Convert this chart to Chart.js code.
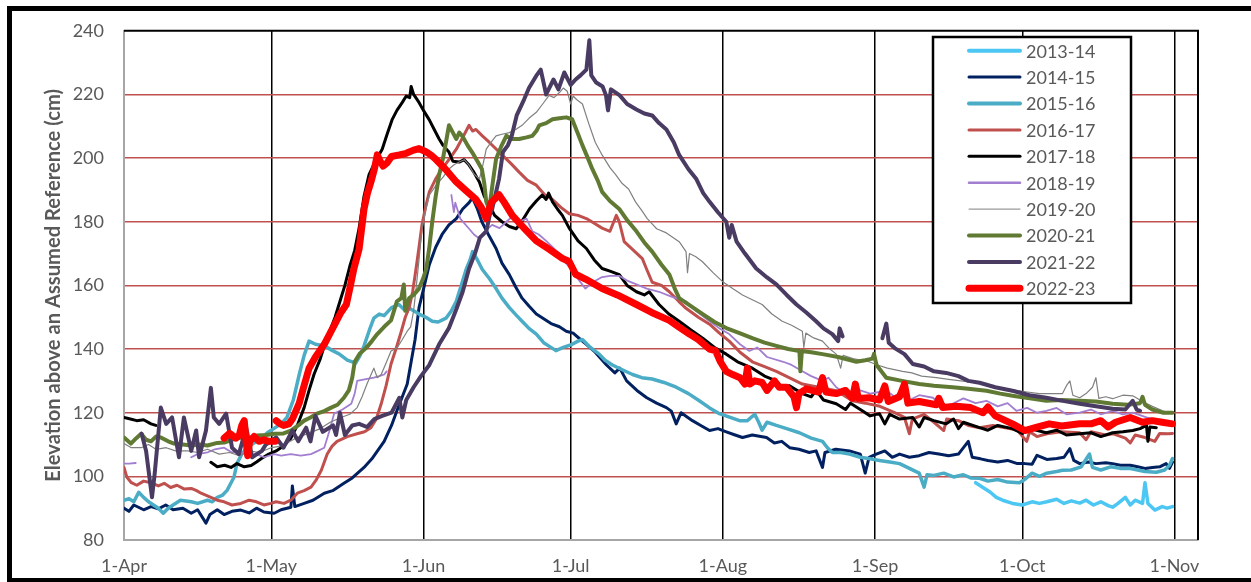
<!DOCTYPE html>
<html>
<head>
<meta charset="utf-8">
<script src="https://cdn.jsdelivr.net/npm/chart.js@4.4.0/dist/chart.umd.min.js"></script>
<style>
  html, body { margin: 0; padding: 0; background: #fff; }
</style>
</head>
<body>
<canvas id="myChart" width="1251" height="582"></canvas>
<script>
// Axis ticks (days after 1-Apr) and their labels
const tickDays = [0, 30, 61, 91, 122, 153, 183, 214];
const tickLabels = ['1-Apr', '1-May', '1-Jun', '1-Jul', '1-Aug', '1-Sep', '1-Oct', '1-Nov'];
const seriesNames = ['2013-14', '2014-15', '2015-16', '2016-17', '2017-18', '2018-19', '2019-20', '2020-21', '2021-22', '2022-23'];

// Series values: [day after 1-Apr, elevation cm], null = gap in record
const s2013 = [[173.5,98],[175,96.5],[176.5,95],[177.7,93.4],[179,92.5],[181,91.5],[183,91],[185,92],[186.5,91.5],[188,92],[190,92.8],[191.5,91.5],[193,92.3],[194.7,91.6],[196,92.5],[197.5,91],[199,92],[200.5,90.8],[201.4,90.3],[202.5,91.5],[204,93.4],[205,91],[206,92.5],[207.5,91.5],[208,98],[208.6,91.5],[210,89.4],[211.5,90.5],[212.5,90],[213.6,90.5]];

const s2014 = [[0,90],[1,89],[2,91],[4,89.5],[5.5,90.5],[7,89.8],[8.5,91],[10,89.5],[12,90],[13.7,88.4],[15,89.5],[16.7,85.3],[17.5,88],[19,89.5],[20.4,88],[22,89],[23.8,89.4],[25.5,88.5],[27,90],[28.5,88.8],[30.6,88.4],[32,89.5],[34,90.3],[34.3,97],[34.8,90.5],[36.7,91.5],[38.5,92.5],[40.8,94.7],[42.5,95.5],[44.8,97.8],[46.5,99.5],[48.9,102.8],[50.5,105.5],[53,111],[54.5,116],[55.6,120.6],[56.7,125],[57.7,129],[58.5,136],[59.3,143],[60.1,153],[61.2,160],[62.2,166.5],[63.5,172],[64.8,176],[66.2,179],[67.7,181],[69,184],[70.3,186],[71,187.5],[72,184],[72.9,180],[74.4,175.5],[75.8,171.6],[77,167],[78.5,163.4],[79.8,159.5],[81.1,156],[82.5,153.5],[84,151],[85.5,149.5],[87,148],[88.7,147],[90.1,145.6],[91.5,145],[93,143],[94.2,141.5],[96,139],[98.3,135],[100,132.5],[101,134],[102.4,130],[104.5,127],[106.5,124.7],[108.5,123],[110.5,121.6],[111.5,120.5],[112.5,116.5],[113.5,120],[115.8,117.5],[117.5,116],[119.3,114.4],[121,115],[122.7,114],[124.5,113],[126,112.2],[128,113],[130.9,112.2],[132.5,110.5],[134,111],[135.6,109],[137.5,108.5],[139.6,107.5],[141,108],[142.3,102.8],[142.8,107.5],[145,108.5],[147.8,108],[150,107],[151,101],[151.8,106],[153,106.8],[155,108],[156.5,106],[158,107],[160,106],[162,106.5],[164,107.5],[166,107],[168,106.5],[170,107],[172,111],[172.8,106],[174.5,105.5],[176,105],[178,104.5],[180,105],[182,104],[183.5,104],[185,103.8],[186,106.6],[188,105.3],[190,105.6],[191.5,106],[192.7,108.7],[193.5,105],[194.7,104],[196.5,104.5],[198,104],[200,104.3],[201.4,104],[203,103.5],[205,103.5],[206.5,103],[208,102.5],[209.5,102.8],[211,103],[212.3,104],[213,102.5],[213.6,104.5]];

const s2015 = [[0,92.5],[1,93],[2,92],[3,95],[4,93.4],[5,92],[6,91],[7,90],[8,88.4],[9,90],[10,91],[11.5,92.5],[13.7,92],[15,91.5],[17,92.5],[18,92],[19,93.4],[20,94],[21,95.6],[22.4,99.7],[23,104],[24,107],[25,109],[26,110],[27,111],[28,112],[29.2,113.7],[30.5,115],[32,116.5],[33.2,118.5],[34.5,124],[35.7,132],[36.7,138],[37.7,142.5],[39,141.5],[40.8,141],[42.5,139.5],[43.8,138.5],[45.5,136.5],[47.2,135.6],[48.1,138],[48.9,141],[50,146],[50.9,149.7],[52,151],[53,150.5],[54.5,153],[56,154],[57,152.5],[58,153],[59,152],[60.1,151],[61.5,150],[62.8,148.75],[64,148.5],[65.6,149.7],[66.7,152],[67.7,155],[68.7,160],[69.7,165],[70.5,168],[71,170.6],[72,168],[73,165],[74.5,162],[75.8,159],[77,156],[78.5,153],[80,150.5],[81.1,148.75],[82.5,146.5],[84,144.7],[85.5,142],[86.5,141],[88,139.5],[89.5,140.5],[91.3,141.5],[92.5,142.5],[93.4,143],[95,140.5],[96.8,138.4],[98,136.5],[99.5,135],[101.5,133.5],[103.6,132],[105.5,131],[107.6,130.6],[110,129.5],[112.5,128],[115,126],[117.2,123.75],[119.3,121.5],[121.3,119.7],[123.5,118.5],[125.4,117.5],[127,117.5],[128.5,119.5],[129.3,117],[130,114.5],[131,117],[132.9,116],[135,115],[137.6,113.7],[140,112],[142.3,111],[143.3,109],[144.3,107.5],[146,107.5],[147.8,107],[150,106],[152,105.5],[153.9,105],[156,104.5],[158,104],[160,102.5],[162,101],[163,96.6],[163.6,100.5],[165,100.3],[167,101],[169,99.8],[171,100.5],[172.5,99.5],[174.3,99.4],[176,98.5],[178,99],[180,98.2],[182.4,98],[183.5,99],[185,101],[186.5,100],[188,101],[190,101.5],[191.2,101.9],[193,102],[195,103],[196.7,107],[197.3,102.8],[199,102],[201,103],[203,102.5],[204.8,102.5],[206.5,102],[208,101.5],[210.3,101.3],[212,102],[213,103.5],[213.6,105.6]];

const s2016 = [[0,102.8],[0.6,99.7],[1.5,98],[2.6,97.2],[4,98.5],[5.5,98],[7,97],[8.2,97.8],[9.5,96.5],[10.8,97.2],[12.3,96],[13.7,96.2],[14.8,95.5],[15.7,94.7],[17.7,93.4],[19,92.5],[20.4,92],[22,91],[23.8,91.5],[25.5,92.5],[27,92],[28.5,91],[29.9,91.5],[31,92],[32.6,91.5],[34,92.5],[35.3,94.7],[36.7,95.5],[38.1,96.6],[39.2,99],[40.2,101.9],[41.4,107],[42.4,109.5],[43.4,111],[45.5,112.5],[47.5,113.4],[49,114],[50.3,115.3],[51.4,118],[52.4,122.8],[53.4,128.5],[54.4,135.3],[55.5,140.5],[56.5,145.6],[57.3,150],[58.1,153],[58.8,158],[59.5,165.3],[60.1,172],[60.7,179],[61.5,185],[62.2,189.4],[63.5,193.5],[64.8,196.6],[66.2,199.5],[67.7,202.8],[69,206.5],[70.3,210.3],[71,208.5],[71.7,209],[73,207],[74.4,205],[75.7,203],[77,201],[78.7,198.5],[80.5,195.6],[82.2,193],[84,191.5],[85.7,188.5],[87.3,187],[89,184.5],[90.7,182.5],[92.5,182],[94.2,181],[95.8,179.5],[97.4,178],[99,177],[100.3,182],[100.9,180],[101.9,173.75],[103.8,171],[105.6,168.4],[106.5,165],[107.6,161],[109.5,160],[111.1,158],[113,155],[114.5,152.8],[117,150],[119.3,147.8],[121.3,145],[123.3,142.5],[125.5,139],[128,136],[130.5,134.5],[132.9,133],[135.5,131],[138.2,129],[141.5,128],[145.1,126.9],[148.4,123.75],[151,123],[154,122],[157,120],[159,118.5],[160,113.4],[160.6,118],[163,119.5],[165,117],[167,114.4],[167.6,118],[170,117.5],[172,116],[174.3,115.3],[177,116],[180.4,115],[182,114.5],[183.9,111],[184.5,114],[186,112.5],[188,113.4],[191,114],[194.7,113.7],[196,111.5],[197,114],[200,113],[201.4,113.4],[204,112],[205,110.5],[206,113],[208,112.2],[210,111],[211,113.5],[212.7,113.4],[213.6,113.5]];

const s2017 = [[0,118.5],[1.3,118],[2.6,117.5],[4,117.8],[5.5,116.5],[6.5,116],[6.6,null],[17.7,104.4],[19,103],[20.5,103.5],[21.8,102.8],[23,104],[24.5,103],[25.9,103.4],[27,104.5],[28,105.6],[29.5,107],[31,108],[32.5,109.5],[34,112],[35.3,116],[36.7,121.6],[37.7,127],[38.7,132],[40,137],[41,142],[42,146],[43,150],[44,155],[45,160],[46,166],[47,171],[47.9,178],[48.9,188],[49.9,194.7],[51.2,199],[52.6,202.8],[53.6,207.5],[54.6,212],[55.6,215],[56.7,217.5],[57.5,219.5],[58.2,219],[58.5,222.5],[59,220],[60.1,217.5],[61,215],[62.2,212],[63.2,209],[64.2,206],[65,204],[66.2,201.9],[67,199],[68.3,198.75],[69.3,199.5],[70.3,197.8],[71.3,195.5],[72.4,192.5],[73.4,188],[74.4,185.3],[75.5,182],[77,180],[78.5,178.5],[79.9,177.8],[81,180],[82.6,184],[84,186.5],[85.2,188.4],[86,187],[86.5,189],[87.3,186.25],[88.3,184],[89.3,182],[90.7,178],[92.5,174],[94.2,171.6],[95.8,168],[97.4,165.3],[99,164.5],[100.9,163.4],[102.5,160],[104.4,158],[106,157],[107,158],[109,154],[111,151],[113.1,148.75],[115.5,146],[117.9,143.4],[120.3,140.5],[122.7,138.4],[125,136],[128,134],[130.5,131.5],[132.9,130],[134,128],[135.5,128.5],[138.2,126],[140,125],[141,127],[142.5,124],[145.1,122.8],[147,121],[148,123],[150.4,120.6],[152,119],[153.9,119.7],[155,116.5],[156,119.5],[158,118],[160.7,118.5],[162,115.5],[163,118.5],[165,117.5],[167.5,116.5],[169,118],[170,115],[171,117],[174.3,115.3],[176,114.5],[178,116],[181,115],[183,113.5],[184.5,115],[187.9,113.7],[190,114.5],[192,113],[194.7,113.4],[197,113.7],[199,112.5],[201.4,113.7],[203.5,114],[205.5,114.4],[207,115],[208.3,116],[208.6,111],[209,115.5],[210.3,115.3]];

const s2018 = [[0,104],[1,104],[2.4,104.2],[2.5,null],[13.7,106],[15,107],[17,107.5],[18.5,108.5],[20.4,109],[22,107.5],[23.5,108],[25,106.5],[27,107],[28.5,106],[30.6,107],[32,106.5],[34,107],[36,106.5],[38.1,107],[39.5,108],[40.8,109],[41.8,114],[42.8,119.7],[44.5,121],[46.3,122.8],[47,126],[47.5,130],[49,130.5],[50.9,131],[52,131.5],[53,132],[53.5,133],[53.6,null],[66.7,188.4],[67.2,183],[67.5,186],[68.5,181],[70.3,177.8],[71.3,176],[72.4,174.7],[73.5,177],[75,179],[76.5,178],[77.9,180],[79,181.5],[80.5,180],[82,181],[83.2,177],[84.5,176],[86,174],[88.7,170],[90,167],[91.1,165.3],[92.5,162],[94,159],[95.5,161],[97.2,162.5],[99,163],[100.9,163],[102.5,161.5],[104.4,160.3],[106.5,159],[109,158],[111.5,156.5],[114.5,155],[116.5,152],[119.3,148.75],[121.3,146.5],[123.3,144.7],[125.5,141.5],[127.4,139.4],[129,140.5],[131,137.5],[134.3,136],[136,135],[138.2,133],[140,131.5],[142.3,130],[143.5,131],[145.1,128],[146.5,126.5],[148.4,124.7],[150,127],[152,126],[155.3,126.9],[157,125],[159,128],[160,124],[162,125.5],[164.8,124.7],[166.8,122],[168.8,122.8],[171,124.5],[173.5,123],[175.7,123.75],[178,122],[180,123],[181.8,120.6],[184,121.5],[186,120],[187.9,120.6],[190,121.5],[192,119.5],[194.7,120],[197,121],[199,119.5],[201.4,120.6],[203.5,119.5],[205.5,120],[208.3,118.5],[211,117.5],[213.6,116.5]];

const s2019 = [[0,110.3],[1.5,109],[3.5,109],[5,110],[6.5,108.5],[8.6,109],[10.5,108],[13,108],[15,107.5],[17,108.5],[19.4,107],[21.5,107.5],[23.5,106.5],[25.5,108],[27.5,107.5],[30,109],[32,109.5],[35,112],[37.5,113.5],[40,115],[42,117],[44.2,118.5],[46,119.5],[47.5,121.6],[48.5,125],[49.5,129],[50.9,134],[51.6,131],[52.4,132],[53.5,136],[54.4,139.4],[55.6,140.3],[56.7,143],[57.7,145.6],[58.4,147],[59,152],[59.5,159],[60.1,168],[60.7,177.8],[61.5,184],[62.2,188.4],[63.6,191.5],[65,194],[66.2,196.6],[67.3,198],[68.3,198.75],[69.3,199.5],[70.3,197.8],[71.3,195],[72.4,193.4],[73,197],[73.8,202.8],[74.8,205],[75.8,207],[77,207.5],[78.5,208],[79.8,209],[81.1,210.3],[82.5,212.5],[84,214.4],[85.3,217],[86.6,219.7],[87.6,219],[88.7,220.6],[89.5,222],[90.3,221],[91,217],[91.5,219.5],[92.2,218.4],[93.4,217],[94.8,210.3],[96,205],[97.4,201],[99,197],[100.2,194.7],[101.5,192],[102.8,190.3],[104.2,186.25],[105.5,183.5],[106.6,181],[107.5,179.5],[108.5,177.8],[110.5,176.5],[113.1,173.75],[114.5,170.6],[114.8,164],[115.2,170],[116.5,169],[117.8,167.5],[120,164],[121.9,161.25],[124,159],[126,157],[128,155.5],[130,154],[132,151],[134.1,148.75],[136,147.5],[138.2,145.6],[138.5,140.5],[138.9,145],[140.5,143.5],[142.3,142.5],[143.8,140],[145.1,138.4],[146,134],[146.5,138],[148.5,137],[151.8,136],[153.5,135],[155.5,134],[158.6,133],[160.5,132.5],[162.5,131.5],[165.5,131],[168,130.5],[170.5,130],[173,129.5],[175.7,129],[178,128],[181.8,127],[184,126.5],[186.5,126],[189,126],[191.2,126],[192,128.5],[192.7,130],[193.3,125.5],[194.7,124.7],[196,126],[197.3,128],[198,131],[198.6,124.5],[200,125],[201.4,124.4],[203.5,125.5],[205.5,125.3],[207.5,123.5],[209.5,122],[211.6,120.6],[213.6,119.7]];

const s2020 = [[0,112.2],[1.4,110.3],[2.5,112],[3.5,113.4],[4.5,111.5],[5.5,111],[6.5,112.5],[7.5,112.2],[9,111],[10.2,110.3],[12,110],[13.7,109.7],[15.5,110],[17,109.7],[19,110.5],[20.4,110.6],[22,111.5],[23.8,112.2],[25.5,112],[27,112.8],[29,113],[30.6,113.4],[32.5,113.5],[34,114.4],[35.5,116],[36.7,117.5],[38,118.5],[39.3,119.7],[40.8,120.5],[42.2,121.6],[43.5,122.5],[44.8,124.7],[45.8,127],[46.5,131],[47,136],[48,138.5],[49.3,140.3],[50.5,142.5],[51.6,144.7],[53,147],[54.4,149],[55.6,155],[56.5,156],[57,160.3],[57.3,152],[58.1,156],[59,157],[60.1,159],[60.9,162],[61.6,165.3],[62.2,172],[62.8,180],[63.5,188],[64.2,194.7],[65,200],[65.6,205],[66.2,210.3],[67,208],[67.7,206],[68.3,208],[68.9,207],[70,204],[70.9,201.9],[72,199],[72.9,196.6],[73.4,192],[73.8,186.25],[74.4,184],[75.1,192],[75.8,199.7],[76.8,203.5],[77.9,207],[79,206],[80.5,206],[82,206.5],[83.2,207],[84,208.5],[84.6,210.3],[86,211],[87.3,212.2],[88.7,212.5],[90.1,212.8],[91.3,212.2],[92.4,208],[93.4,204],[94.5,200],[95.4,196.6],[96.5,193],[97.4,189.4],[99,186.5],[100.9,184],[102.5,180.5],[104.4,177],[106,173.5],[107.6,170.6],[109.5,166.5],[111.1,163.4],[112.2,159],[113.1,156],[115.5,153.5],[117.9,151],[120.3,148.5],[122.7,146.6],[125.4,145],[128,143.4],[130.5,142],[132.9,141],[135.3,140],[137.6,139.4],[137.8,133],[138.1,139.4],[140,139],[142.3,138.4],[145.5,137.5],[149.2,136],[151,136.5],[152.5,137],[152.8,138.5],[153.3,135],[155.3,131],[158.5,130],[162,129],[165,128.5],[168.8,128],[172,127.5],[175.7,126.9],[178.5,126],[181,125.3],[184.5,124.5],[187.9,123.75],[191,124],[194.7,123.75],[198,123.5],[201.4,122.8],[204.5,122.5],[207,123],[207.5,125],[208,122.5],[209.5,121],[211.6,120],[213.6,120]];

const s2021 = [[3.6,113.4],[4.5,108],[5.7,93.4],[6.2,100],[7.5,121.6],[8.6,116.5],[9.8,118.5],[11.2,106],[12.2,118.5],[13.7,108],[14.7,114.4],[15.3,106],[16.7,114.4],[17.7,127.8],[18.3,118.5],[19.4,116.5],[20.8,119.7],[22,109],[23.4,107],[24.9,115.3],[26.1,106],[28.1,108],[28.9,110],[31,112.2],[32.5,109],[34.3,114.4],[35.5,111],[37.1,115.3],[38,111],[39,119],[40.5,114],[42.6,116],[43.2,113],[44,120],[45,113],[46.5,116],[47.9,116.5],[49.5,115.5],[51,118],[52.6,119],[54.5,120],[56.1,124.7],[56.7,118.5],[57.5,124],[59,128],[60.5,131.5],[62.2,135],[64.2,141.5],[66.2,146.6],[67.7,152.5],[69,158],[70.3,165.3],[71.5,170],[72.5,175],[73.8,177],[74.5,182],[75,184],[76.4,193.4],[77.2,201.9],[78.2,204],[79,207],[80,213.4],[81.5,218.4],[82.5,222],[84,225.9],[84.9,227.8],[86,220],[87.5,224.7],[88.5,221.6],[89.7,226.9],[91,223],[92,224.7],[93,226],[94.2,227.8],[94.8,237],[95.2,226],[96.2,223.75],[97.5,222.5],[98.2,219.7],[98.6,215],[99.2,221.6],[101,219.7],[102.5,217],[104.4,215.3],[106,214],[107.6,213.4],[109,211],[110.5,209],[112,205],[113.1,201],[115,196.5],[116.6,193.4],[118,189],[119.3,186.25],[121,183],[122.7,180],[123.3,175],[123.8,179],[124.8,173.75],[126.5,170],[128.8,165.3],[131,162.5],[132.9,160.3],[135,157],[137,154],[139,151.5],[141,148.75],[142.5,146.5],[144.3,144.7],[145.5,142.5],[145.8,146.5],[146.4,144],[146.5,null],[154.5,143.4],[155.3,148],[155.8,142],[157,140.3],[159,138.4],[160.7,135.3],[163,134.5],[165,133],[167.5,132.5],[170,131.5],[172,130],[174.3,129.4],[177.5,128],[181,126.9],[184.5,125.5],[187.9,124.7],[191,123.8],[194.7,122.8],[198,122],[201.4,121.25],[204,121],[205.5,123.75],[206.3,121],[207,120.6]];

const s2022 = [[20.4,112],[21.5,113.5],[22.8,112],[23.5,113],[24,116],[24.5,117.5],[24.8,112],[25.2,106.5],[25.6,111],[26.5,112.5],[27.5,111],[28.5,111.5],[29.5,111],[30.8,111],[30.9,null],[31,117.5],[31.8,116.5],[32.5,116],[33.6,116.5],[34.3,118],[35,120.5],[35.7,123],[36.5,127.5],[37.7,134],[39,137.5],[40.8,141.5],[42.5,146.5],[44.2,151.5],[45.3,154],[46,159],[46.8,165],[47.9,171.5],[48.9,184],[49.6,189],[50.3,192.5],[51,196.5],[51.6,201],[52.2,199],[52.8,197.5],[53.6,198.5],[54.5,200.5],[56.1,201],[57.5,201.5],[59,202.5],[60.1,203],[61.5,202],[62.5,201],[63.6,199.5],[65.5,196.5],[67.7,192.5],[69.5,190],[71.7,187],[72.8,184.5],[73.8,181],[74.8,186],[76.4,188.5],[77.5,186],[79.1,182],[81.5,178],[84,174],[86.5,171.5],[89.3,168.5],[90.7,167.5],[92,163.5],[94,162],[97.4,159],[100.5,157],[104.4,154],[107.5,151.5],[111.1,149],[113,147],[115.2,144.7],[117,143],[119.3,140],[120.5,139.5],[121.5,136],[122.7,133],[124,132],[125.5,131],[126.5,129],[127,134],[127.5,129],[128.5,130],[130,129.5],[131,127],[132.5,130],[133.5,128],[135,128],[136.5,125],[137,121.6],[137.5,126],[139,127.5],[141.5,126.5],[142.3,131],[143,126.5],[145.1,126],[147,127],[148.4,124.5],[149,129],[149.6,124.5],[151.8,124.7],[153.9,124],[155,128.4],[155.7,123.5],[158,125],[159,129],[159.7,123],[162,123.5],[165.5,122.5],[166,124.5],[166.8,121.6],[169.5,122],[172.5,121.6],[175,120],[176,121.8],[177.5,119],[181,116.5],[183.5,114.4],[186,115.5],[188.5,116.5],[191,115.8],[194.7,116.5],[197,116.5],[199,117.5],[200.5,115.5],[202,117],[205,118.5],[207.5,117],[209.5,117.5],[211.5,117],[213.6,116.5]];

const seriesData = [s2013, s2014, s2015, s2016, s2017, s2018, s2019, s2020, s2021, s2022];

// Styles
const lineColors = ['#4CC6F2', '#002060', '#4BACC6', '#C0504D', '#000000', '#A27ED0', '#808080', '#607A33', '#4A3B62', '#FF0000'];
const lineWidths = [3.5, 3, 3.5, 3, 3, 1.8, 1.2, 4, 4, 7];
const legendWidths = [4, 3, 4, 3, 3, 2.5, 1, 4, 4, 7];
const textGray = '#595959';

const ctx = document.getElementById('myChart').getContext('2d');

const datasets = seriesNames.map((name, i) => ({
  label: name,
  data: seriesData[i],
  borderColor: lineColors[i],
  backgroundColor: lineColors[i],
  borderWidth: lineWidths[i],
  pointRadius: 0,
  tension: 0,
  fill: false,
  spanGaps: false,
  borderJoinStyle: 'round',
  borderCapStyle: 'round',
  order: seriesNames.length - i // later seasons drawn on top
}));

// White page, outer frame, plot border and axis title
const framePlugin = {
  id: 'framePlugin',
  beforeDraw(chart) {
    const c = chart.ctx;
    c.save();
    c.fillStyle = '#fff';
    c.fillRect(0, 0, chart.width, chart.height);
    c.restore();
  },
  afterDraw(chart) {
    const c = chart.ctx;
    const a = chart.chartArea;
    c.save();
    // top and right border of the plot
    c.strokeStyle = '#000';
    c.lineWidth = 2;
    c.beginPath();
    c.moveTo(a.left, a.top);
    c.lineTo(a.right, a.top);
    c.lineTo(a.right, a.bottom);
    c.stroke();
    // outer frame
    c.lineWidth = 5;
    c.strokeRect(9.5, 8.5, 1260, 572);
    // y axis title, fitted to the original length
    const title = 'Elevation above an Assumed Reference (cm)';
    c.font = 'bold 16px Lato';
    const size = 16 * 393 / c.measureText(title).width;
    c.font = 'bold ' + size.toFixed(2) + 'px Lato';
    c.fillStyle = textGray;
    c.translate(53, (a.top + a.bottom) / 2);
    c.rotate(-Math.PI / 2);
    c.textAlign = 'center';
    c.textBaseline = 'middle';
    c.fillText(title, 0, 0);
    c.restore();
  }
};

// Boxed legend inside the plot, top right
const boxLegend = {
  id: 'boxLegend',
  afterDatasetsDraw(chart) {
    const c = chart.ctx;
    c.save();
    c.fillStyle = '#fff';
    c.fillRect(933, 37, 198, 266);
    c.strokeStyle = '#000';
    c.lineWidth = 2.5;
    c.strokeRect(933, 37, 198, 266);
    c.font = '18px Lato';
    c.textBaseline = 'middle';
    c.textAlign = 'left';
    chart.data.datasets.forEach((ds, i) => {
      const y = 50.7 + i * 26.4;
      c.strokeStyle = ds.borderColor;
      c.lineWidth = legendWidths[i];
      c.lineCap = 'round';
      c.beginPath();
      c.moveTo(969, y);
      c.lineTo(1020, y);
      c.stroke();
      c.fillStyle = textGray;
      c.fillText(ds.label, 1026, y + 1);
    });
    c.restore();
  }
};

const myChart = new Chart(ctx, {
  type: 'line',
  data: { datasets: datasets },
  options: {
    responsive: false,
    animation: false,
    layout: { padding: { left: 14, right: 53, top: 29, bottom: 0 } },
    plugins: {
      legend: { display: false },
      tooltip: { enabled: false }
    },
    scales: {
      x: {
        type: 'linear',
        min: 0,
        max: 218.8,
        afterBuildTicks: s => { s.ticks = tickDays.map(v => ({ value: v })); },
        afterFit: s => { s.height = 42; },
        ticks: {
          callback: (v, i) => tickLabels[i],
          color: textGray,
          font: { family: 'Lato', size: 18 },
          padding: 15,
          maxRotation: 0,
          autoSkip: false
        },
        grid: {
          color: c => (c.tick && c.tick.value === 0) ? 'rgba(0,0,0,0)' : '#000',
          lineWidth: 1.5,
          drawTicks: false
        },
        border: { color: '#A6A6A6', width: 2 }
      },
      y: {
        min: 80,
        max: 240,
        afterFit: s => { s.width = 110; },
        ticks: {
          stepSize: 20,
          color: textGray,
          font: { family: 'Lato', size: 18 },
          padding: 20
        },
        grid: {
          color: c => (c.tick && (c.tick.value === 80 || c.tick.value === 240)) ? 'rgba(0,0,0,0)' : '#C0504D',
          lineWidth: 1.5,
          drawTicks: false
        },
        border: { color: '#A6A6A6', width: 2 }
      }
    }
  },
  plugins: [framePlugin, boxLegend]
});
</script>
</body>
</html>
